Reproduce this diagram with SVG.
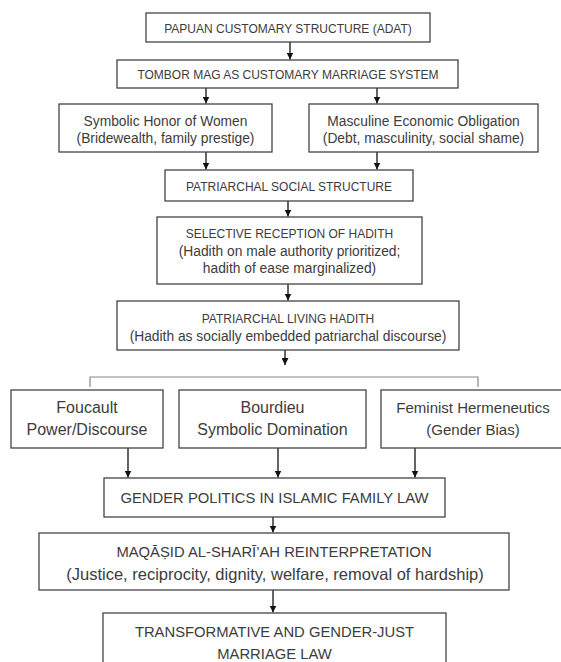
<svg xmlns="http://www.w3.org/2000/svg" width="561" height="662" viewBox="0 0 561 662">
<style>
.box{fill:#fff;stroke:#444;stroke-width:1.3}
text{font-family:"Liberation Sans",Arial,sans-serif;fill:#3c3c3c;text-anchor:middle}
.s{font-size:12px}
.m{font-size:13.8px}
.l{font-size:16px}
.b{font-size:14.8px}
.c{stroke:#111;stroke-width:1.3;fill:none}
.br{stroke:#888;stroke-width:1.2;fill:none}
</style>
<defs>
<marker id="ah" viewBox="0 0 10 10" refX="10" refY="5" markerWidth="7" markerHeight="7" markerUnits="userSpaceOnUse" orient="auto">
<path d="M0,0 L10,5 L0,10 Z" fill="#111"/>
</marker>
</defs>
<rect width="561" height="662" fill="#fff"/>
<g id="connectors">
<line class="c" x1="290" y1="42" x2="290" y2="59.5" marker-end="url(#ah)"/>
<line class="c" x1="206" y1="88" x2="206" y2="103.5" marker-end="url(#ah)"/>
<line class="c" x1="377" y1="88" x2="377" y2="103.5" marker-end="url(#ah)"/>
<line class="c" x1="206" y1="152" x2="206" y2="169.5" marker-end="url(#ah)"/>
<line class="c" x1="377" y1="152" x2="377" y2="169.5" marker-end="url(#ah)"/>
<line class="c" x1="288" y1="201" x2="288" y2="216.5" marker-end="url(#ah)"/>
<line class="c" x1="288" y1="284" x2="288" y2="300.5" marker-end="url(#ah)"/>
<line class="c" x1="285" y1="350" x2="285" y2="365" marker-end="url(#ah)"/>
<path class="br" d="M90,387 V377 H478 V387"/>
<line class="c" x1="128" y1="448" x2="128" y2="477.5" marker-end="url(#ah)"/>
<line class="c" x1="278" y1="448" x2="278" y2="477.5" marker-end="url(#ah)"/>
<line class="c" x1="415" y1="448" x2="415" y2="477.5" marker-end="url(#ah)"/>
<line class="c" x1="273" y1="517" x2="273" y2="532.5" marker-end="url(#ah)"/>
<line class="c" x1="273" y1="590" x2="273" y2="612.5" marker-end="url(#ah)"/>
</g>
<g id="n1"><rect class="box" x="146" y="13" width="284" height="29"/><text class="s" x="288" y="33">PAPUAN CUSTOMARY STRUCTURE (ADAT)</text></g>
<g id="n2"><rect class="box" x="117" y="60" width="341" height="28"/><text class="s" x="288" y="79">TOMBOR MAG AS CUSTOMARY MARRIAGE SYSTEM</text></g>
<g id="n3a"><rect class="box" x="59" y="104" width="213" height="48"/><text class="m" x="165.5" y="126">Symbolic Honor of Women</text><text class="m" x="165.5" y="143">(Bridewealth, family prestige)</text></g>
<g id="n3b"><rect class="box" x="309" y="104" width="229" height="48"/><text class="m" x="423.5" y="126">Masculine Economic Obligation</text><text class="m" x="423.5" y="143">(Debt, masculinity, social shame)</text></g>
<g id="n4"><rect class="box" x="165" y="170" width="248" height="31"/><text class="s" x="289" y="191">PATRIARCHAL SOCIAL STRUCTURE</text></g>
<g id="n5"><rect class="box" x="157" y="217" width="265" height="67"/><text class="s" x="289.5" y="238">SELECTIVE RECEPTION OF HADITH</text><text class="m" x="289.5" y="256">(Hadith on male authority prioritized;</text><text class="m" x="289.5" y="273">hadith of ease marginalized)</text></g>
<g id="n6"><rect class="box" x="117" y="301" width="342" height="49"/><text class="s" x="288" y="323">PATRIARCHAL LIVING HADITH</text><text class="m" x="288" y="341">(Hadith as socially embedded patriarchal discourse)</text></g>
<g id="n7a"><rect class="box" x="11" y="390" width="152" height="58"/><text class="l" x="87" y="413">Foucault</text><text class="l" x="87" y="435">Power/Discourse</text></g>
<g id="n7b"><rect class="box" x="179" y="390" width="187" height="58"/><text class="l" x="272.5" y="413">Bourdieu</text><text class="l" x="272.5" y="435">Symbolic Domination</text></g>
<g id="n7c"><rect class="box" x="381" y="390" width="184" height="58"/><text class="m" x="473" y="413" style="font-size:15px">Feminist Hermeneutics</text><text class="m" x="473" y="435" style="font-size:15px">(Gender Bias)</text></g>
<g id="n8"><rect class="box" x="104" y="478" width="341" height="39"/><text class="b" x="274.5" y="503">GENDER POLITICS IN ISLAMIC FAMILY LAW</text></g>
<g id="n9"><rect class="box" x="39" y="533" width="470" height="57"/><text class="b" x="274" y="557">MAQĀṢID AL-SHARĪ’AH REINTERPRETATION</text><text class="b" x="275" y="580" style="font-size:16.5px">(Justice, reciprocity, dignity, welfare, removal of hardship)</text></g>
<g id="n10"><rect class="box" x="103" y="613" width="343" height="60"/><text class="b" x="274.5" y="637">TRANSFORMATIVE AND GENDER-JUST</text><text class="b" x="274.5" y="659">MARRIAGE LAW</text></g>
</svg>
